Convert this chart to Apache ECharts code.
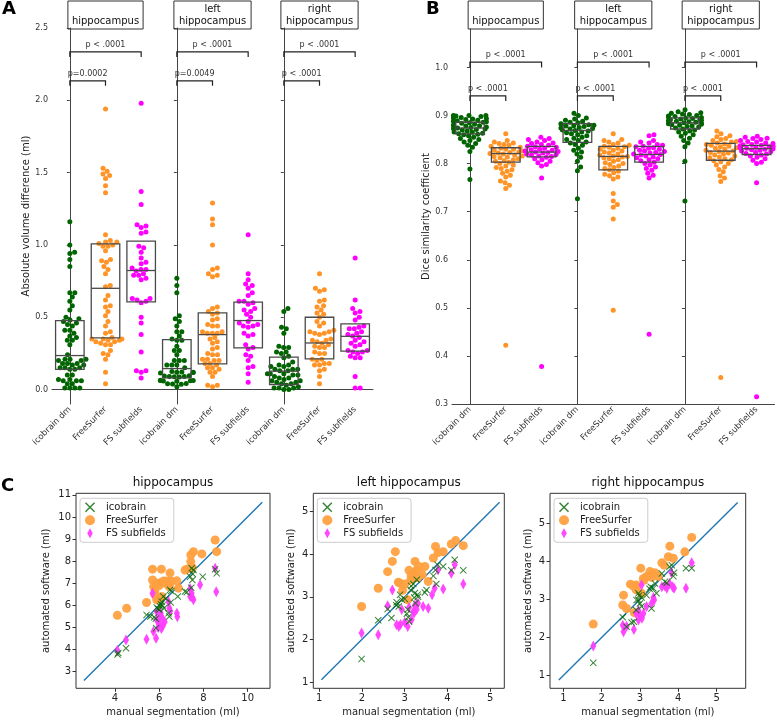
<!DOCTYPE html>
<html><head><meta charset="utf-8">
<script src="https://cdn.jsdelivr.net/npm/echarts@6/dist/echarts.min.js"></script>
<style>html,body{margin:0;padding:0;background:#fff}#c{width:777px;height:722px}</style>
</head><body><div id="c"></div>
<script>
// ---------- categories / labels ----------
const CATS = ['icobrain dm', 'FreeSurfer', 'FS subfields'];
const REGION_BOX = ['hippocampus', 'left\nhippocampus', 'right\nhippocampus'];
const REGION_TITLE = ['hippocampus', 'left hippocampus', 'right hippocampus'];
const LEGEND_NAMES = ['icobrain', 'FreeSurfer', 'FS subfields'];
const pLabelsA = [['p < .0001', 'p=0.0002'], ['p < .0001', 'p=0.0049'], ['p < .0001', 'p < .0001']];
const pLabelsB = [['p < .0001', 'p < .0001'], ['p < .0001', 'p < .0001'], ['p < .0001', 'p < .0001']];
const bracketsA = [[0, 2, 2.3, 0.035], [0, 1, 2.1, 0.035]];
const bracketsB = [[0, 2, 1.0, 0.011], [0, 1, 0.93, 0.011]];
const ticksA = [0, 0.5, 1.0, 1.5, 2.0, 2.5];
const ticksB = [0.3, 0.4, 0.5, 0.6, 0.7, 0.8, 0.9, 1.0];
const ticksC1x = [4, 6, 8, 10];
const ticksC1y = [3, 4, 5, 6, 7, 8, 9, 10, 11];
const ticksC23 = [1, 2, 3, 4, 5];

// ---------- Panel A: absolute volume difference (ml) ----------
const volIcoHip = [1.16, 1.0, 0.95, 0.94, 0.9, 0.85, 0.67, 0.67, 0.64, 0.61, 0.58, 0.55, 0.5, 0.49, 0.48, 0.47, 0.46, 0.45, 0.44, 0.41, 0.41, 0.39, 0.37, 0.36, 0.34, 0.34, 0.31, 0.24, 0.21, 0.21, 0.21, 0.2, 0.2, 0.18, 0.18, 0.18, 0.17, 0.17, 0.15, 0.15, 0.15, 0.14, 0.14, 0.1, 0.1, 0.07, 0.07, 0.06, 0.06, 0.06, 0.04, 0.04, 0.01, 0.01, 0.01, 0.01];
const volFsHip = [1.94, 1.53, 1.51, 1.49, 1.48, 1.46, 1.41, 1.36, 1.07, 1.03, 1.02, 1.02, 1.01, 1.0, 0.99, 0.99, 0.96, 0.9, 0.89, 0.88, 0.85, 0.83, 0.8, 0.72, 0.71, 0.65, 0.62, 0.58, 0.57, 0.54, 0.51, 0.47, 0.44, 0.4, 0.39, 0.36, 0.35, 0.35, 0.35, 0.34, 0.34, 0.33, 0.33, 0.32, 0.31, 0.31, 0.27, 0.25, 0.24, 0.21, 0.12, 0.04];
const volSubHip = [1.98, 1.37, 1.28, 1.14, 1.13, 1.12, 1.09, 1.08, 0.99, 0.98, 0.95, 0.91, 0.88, 0.87, 0.84, 0.83, 0.83, 0.82, 0.8, 0.79, 0.79, 0.77, 0.76, 0.63, 0.63, 0.62, 0.61, 0.6, 0.5, 0.46, 0.38, 0.26, 0.13, 0.13, 0.12, 0.08];
const volIcoLeft = [0.77, 0.72, 0.67, 0.51, 0.49, 0.47, 0.44, 0.4, 0.4, 0.37, 0.35, 0.34, 0.34, 0.3, 0.27, 0.27, 0.24, 0.2, 0.2, 0.2, 0.17, 0.17, 0.17, 0.15, 0.125, 0.122, 0.12, 0.119, 0.117, 0.115, 0.095, 0.093, 0.091, 0.09, 0.089, 0.087, 0.065, 0.063, 0.062, 0.06, 0.059, 0.057, 0.042, 0.04, 0.038, 0.036, 0.02];
const volFsLeft = [1.29, 1.18, 1.14, 1.0, 0.84, 0.83, 0.8, 0.79, 0.78, 0.57, 0.56, 0.54, 0.53, 0.52, 0.49, 0.48, 0.45, 0.44, 0.44, 0.4, 0.4, 0.39, 0.39, 0.39, 0.36, 0.35, 0.33, 0.32, 0.29, 0.28, 0.25, 0.24, 0.24, 0.21, 0.21, 0.2, 0.2, 0.18, 0.18, 0.17, 0.15, 0.15, 0.14, 0.12, 0.12, 0.09, 0.03, 0.03, 0.02];
const volSubLeft = [1.07, 0.8, 0.76, 0.73, 0.72, 0.7, 0.67, 0.65, 0.61, 0.61, 0.6, 0.59, 0.56, 0.55, 0.54, 0.52, 0.5, 0.47, 0.46, 0.45, 0.44, 0.44, 0.43, 0.39, 0.38, 0.37, 0.31, 0.29, 0.28, 0.24, 0.23, 0.2, 0.16, 0.15, 0.11, 0.05];
const volIcoRight = [0.56, 0.54, 0.43, 0.42, 0.39, 0.3, 0.29, 0.29, 0.26, 0.26, 0.25, 0.23, 0.22, 0.19, 0.17, 0.17, 0.16, 0.16, 0.14, 0.14, 0.14, 0.13, 0.13, 0.11, 0.11, 0.11, 0.1, 0.1, 0.09, 0.08, 0.08, 0.07, 0.06, 0.06, 0.05, 0.05, 0.04, 0.04, 0.03, 0.02, 0.01, 0.01, 0.01, 0.0, 0.0];
const volFsRight = [0.8, 0.7, 0.69, 0.68, 0.62, 0.61, 0.58, 0.57, 0.55, 0.53, 0.52, 0.5, 0.47, 0.46, 0.44, 0.41, 0.4, 0.4, 0.39, 0.39, 0.38, 0.35, 0.34, 0.34, 0.33, 0.32, 0.31, 0.3, 0.29, 0.29, 0.26, 0.25, 0.25, 0.21, 0.21, 0.2, 0.18, 0.18, 0.17, 0.17, 0.14, 0.13, 0.09, 0.04];
const volSubRight = [0.91, 0.62, 0.56, 0.54, 0.53, 0.5, 0.48, 0.44, 0.43, 0.42, 0.42, 0.4, 0.39, 0.38, 0.37, 0.36, 0.34, 0.33, 0.32, 0.31, 0.3, 0.27, 0.27, 0.26, 0.26, 0.25, 0.23, 0.22, 0.22, 0.09, 0.01, 0.01];
// box stats [Q1, median, Q3]
const volBoxHip = [[0.14, 0.235, 0.477], [0.357, 0.70, 1.007], [0.606, 0.823, 1.026]];
const volBoxLeft = [[0.08, 0.145, 0.345], [0.178, 0.38, 0.53], [0.288, 0.477, 0.604]];
const volBoxRight = [[0.035, 0.127, 0.224], [0.212, 0.322, 0.5], [0.265, 0.368, 0.454]];

// ---------- Panel B: Dice similarity coefficient ----------
const diceIcoHip = [0.90, 0.90, 0.90, 0.899, 0.898, 0.896, 0.895, 0.894, 0.893, 0.892, 0.89, 0.889, 0.888, 0.887, 0.886, 0.885, 0.884, 0.882, 0.881, 0.88, 0.879, 0.878, 0.876, 0.875, 0.874, 0.873, 0.872, 0.871, 0.87, 0.868, 0.866, 0.865, 0.863, 0.862, 0.861, 0.86, 0.858, 0.855, 0.852, 0.85, 0.848, 0.845, 0.842, 0.838, 0.834, 0.825, 0.789, 0.767];
const diceFsHip = [0.862, 0.848, 0.845, 0.843, 0.842, 0.84, 0.838, 0.836, 0.834, 0.832, 0.83, 0.83, 0.828, 0.826, 0.824, 0.823, 0.822, 0.821, 0.82, 0.818, 0.816, 0.815, 0.814, 0.812, 0.81, 0.808, 0.806, 0.805, 0.803, 0.8, 0.797, 0.795, 0.792, 0.79, 0.787, 0.784, 0.78, 0.776, 0.772, 0.764, 0.76, 0.755, 0.748, 0.422];
const diceSubHip = [0.855, 0.852, 0.85, 0.848, 0.845, 0.843, 0.842, 0.84, 0.838, 0.836, 0.835, 0.834, 0.832, 0.83, 0.829, 0.828, 0.826, 0.825, 0.824, 0.823, 0.822, 0.82, 0.819, 0.818, 0.816, 0.815, 0.813, 0.81, 0.808, 0.805, 0.802, 0.798, 0.795, 0.77, 0.378];
const diceIcoLeft = [0.905, 0.9, 0.895, 0.893, 0.89, 0.888, 0.886, 0.885, 0.883, 0.882, 0.881, 0.88, 0.879, 0.878, 0.877, 0.875, 0.874, 0.873, 0.872, 0.87, 0.869, 0.868, 0.866, 0.864, 0.862, 0.86, 0.858, 0.855, 0.853, 0.85, 0.848, 0.845, 0.843, 0.84, 0.838, 0.832, 0.828, 0.824, 0.82, 0.813, 0.805, 0.793, 0.785, 0.727];
const diceFsLeft = [0.862, 0.85, 0.848, 0.845, 0.843, 0.84, 0.838, 0.836, 0.835, 0.834, 0.832, 0.83, 0.828, 0.826, 0.824, 0.822, 0.82, 0.818, 0.816, 0.815, 0.814, 0.812, 0.81, 0.808, 0.805, 0.802, 0.8, 0.798, 0.795, 0.792, 0.79, 0.787, 0.784, 0.781, 0.778, 0.775, 0.772, 0.768, 0.738, 0.722, 0.715, 0.709, 0.685, 0.495];
const diceSubLeft = [0.86, 0.858, 0.848, 0.845, 0.843, 0.84, 0.838, 0.836, 0.835, 0.833, 0.832, 0.83, 0.828, 0.826, 0.825, 0.823, 0.822, 0.82, 0.819, 0.818, 0.816, 0.814, 0.812, 0.81, 0.808, 0.806, 0.803, 0.8, 0.797, 0.793, 0.79, 0.786, 0.78, 0.776, 0.77, 0.445];
const diceIcoRight = [0.912, 0.908, 0.906, 0.905, 0.903, 0.902, 0.9, 0.899, 0.898, 0.897, 0.896, 0.895, 0.894, 0.893, 0.892, 0.891, 0.89, 0.889, 0.888, 0.887, 0.886, 0.885, 0.884, 0.883, 0.882, 0.881, 0.88, 0.879, 0.877, 0.876, 0.874, 0.872, 0.87, 0.868, 0.866, 0.863, 0.86, 0.857, 0.853, 0.848, 0.843, 0.835, 0.805, 0.722];
const diceFsRight = [0.868, 0.862, 0.858, 0.856, 0.852, 0.85, 0.848, 0.846, 0.845, 0.843, 0.841, 0.84, 0.838, 0.836, 0.835, 0.833, 0.832, 0.83, 0.828, 0.826, 0.825, 0.823, 0.822, 0.82, 0.818, 0.816, 0.814, 0.812, 0.81, 0.808, 0.806, 0.804, 0.8, 0.797, 0.793, 0.788, 0.783, 0.775, 0.77, 0.763, 0.355];
const diceSubRight = [0.857, 0.855, 0.853, 0.852, 0.85, 0.848, 0.846, 0.845, 0.843, 0.842, 0.84, 0.839, 0.838, 0.837, 0.836, 0.835, 0.834, 0.833, 0.832, 0.831, 0.83, 0.829, 0.828, 0.826, 0.825, 0.823, 0.821, 0.82, 0.818, 0.816, 0.813, 0.81, 0.807, 0.803, 0.8, 0.76, 0.315];
const diceBoxHip = [[0.862, 0.874, 0.886], [0.803, 0.821, 0.833], [0.814, 0.824, 0.836]];
const diceBoxLeft = [[0.844, 0.869, 0.883], [0.787, 0.815, 0.836], [0.803, 0.819, 0.836]];
const diceBoxRight = [[0.872, 0.885, 0.895], [0.807, 0.826, 0.842], [0.819, 0.831, 0.838]];

// ---------- Panel C: manual (x) vs automated (y) volumes (ml) ----------
const scIcoHip = [[4.12,3.78],[4.15,3.85],[4.5,4.06],[5.43,5.57],[5.6,5.5],[5.77,5.46],[5.86,4.97],[5.89,5.9],[5.95,5.85],[6.0,5.8],[6.04,5.95],[6.11,6.17],[6.15,6.0],[6.19,6.4],[6.22,5.87],[6.3,6.3],[6.42,5.64],[6.46,5.5],[6.49,6.7],[6.52,6.13],[6.55,6.65],[6.84,6.4],[7.17,6.63],[7.25,6.6],[7.4,7.3],[7.45,6.8],[7.47,7.68],[7.52,7.42],[7.5,7.15],[7.55,7.6],[7.97,7.3],[8.53,7.64],[8.6,7.45],[5.85,5.4],[6.08,6.05]];
const scFsHip = [[4.11,5.55],[4.53,5.87],[5.43,6.13],[5.7,7.15],[5.7,7.64],[6.1,7.64],[5.81,6.7],[5.89,7.0],[5.95,6.3],[6.0,6.9],[6.1,7.05],[6.2,7.1],[6.3,7.0],[6.35,7.1],[6.46,6.97],[6.49,7.47],[6.55,7.1],[6.8,7.11],[6.87,6.78],[7.17,7.6],[7.3,7.65],[7.43,7.98],[7.43,8.28],[7.55,8.43],[7.93,8.33],[8.53,8.96],[8.6,8.43],[6.11,6.4],[5.89,6.25],[5.75,6.85],[6.45,6.85],[7.5,7.7],[5.8,6.5]];
const scSubHip = [[4.11,3.96],[4.5,4.44],[5.43,4.47],[5.86,4.51],[5.7,6.55],[5.74,4.82],[5.89,5.34],[6.0,5.19],[6.16,5.07],[5.89,5.72],[6.07,5.64],[6.46,5.87],[6.8,5.64],[6.82,5.49],[7.4,6.4],[7.47,6.55],[7.55,6.25],[7.85,6.93],[8.53,7.68],[8.58,6.62],[6.42,6.17],[6.16,5.4],[6.1,4.95],[5.95,5.0],[6.25,5.25],[7.4,6.75],[7.5,6.35],[6.5,5.75],[6.05,5.5]];
const scIcoLeft = [[1.99,1.54],[2.38,2.45],[2.6,2.71],[2.69,2.5],[2.81,2.87],[2.86,2.77],[2.93,2.93],[2.89,3.05],[3.07,2.7],[3.08,2.52],[3.1,2.42],[3.14,3.16],[3.2,3.3],[3.24,3.09],[3.25,2.85],[3.28,3.4],[3.31,3.0],[3.47,3.1],[3.51,3.16],[3.67,3.49],[3.72,3.63],[3.74,3.3],[3.77,3.75],[3.9,3.71],[4.09,3.62],[4.17,3.87],[4.37,3.62],[2.8,2.8],[3.0,2.95],[3.15,3.25],[3.3,3.05],[3.22,2.98],[3.05,2.6]];
const scFsLeft = [[1.99,2.77],[2.38,3.2],[2.6,3.59],[2.71,3.83],[2.78,4.06],[2.85,3.34],[2.89,3.32],[3.07,2.93],[3.1,3.62],[3.14,3.4],[3.24,3.83],[3.28,3.63],[3.33,3.71],[3.41,3.52],[3.47,3.71],[3.55,3.36],[3.67,3.91],[3.72,4.18],[3.78,4.04],[3.9,4.06],[4.09,4.24],[4.19,4.32],[4.37,4.2],[3.2,3.55],[3.15,3.5],[2.95,3.15],[3.0,3.3],[3.3,3.45]];
const scSubLeft = [[1.99,2.15],[2.38,2.11],[2.6,2.79],[2.71,3.16],[2.81,2.34],[2.86,2.3],[2.93,2.7],[3.07,2.3],[3.1,2.75],[3.16,2.46],[3.22,2.62],[3.28,2.7],[3.31,2.85],[3.43,2.77],[3.55,2.73],[3.64,3.05],[3.7,3.2],[3.78,3.63],[3.9,3.18],[4.09,3.55],[4.17,3.75],[4.37,3.3],[3.24,2.8],[2.9,2.35],[3.0,2.4],[3.2,2.65]];
const scIcoRight = [[1.78,1.33],[2.55,2.53],[2.65,2.28],[2.78,2.39],[2.84,2.41],[2.9,2.72],[2.91,2.98],[2.96,3.16],[3.0,2.89],[3.04,2.81],[3.17,3.11],[3.28,3.33],[3.3,2.76],[3.35,3.29],[3.39,3.42],[3.43,3.16],[3.57,3.68],[3.65,3.46],[3.7,3.44],[3.77,3.86],[3.83,3.9],[3.87,3.61],[3.89,3.7],[4.2,3.82],[4.35,3.82],[2.96,2.98],[3.04,3.05],[2.98,3.1],[3.25,3.28]];
const scFsRight = [[1.78,2.35],[2.57,3.11],[2.55,2.85],[2.65,2.76],[2.83,3.35],[2.9,3.38],[3.02,3.82],[3.04,3.16],[3.09,3.55],[3.17,3.6],[3.26,3.73],[3.33,3.68],[3.39,3.7],[3.48,3.6],[3.57,3.96],[3.63,3.9],[3.74,4.12],[3.78,4.4],[3.87,4.08],[4.17,4.25],[4.35,4.63],[2.9,3.25],[2.75,3.4],[3.1,3.5],[3.3,3.58],[2.85,2.65]];
const scSubRight = [[1.78,1.77],[2.55,2.32],[2.57,2.15],[2.65,2.29],[2.84,2.21],[2.9,2.63],[2.96,2.46],[3.0,2.59],[3.04,3.38],[3.09,2.63],[3.17,2.81],[3.3,2.89],[3.37,2.98],[3.57,3.33],[3.7,3.29],[3.77,3.42],[3.85,3.33],[3.89,3.29],[4.2,3.29],[4.35,3.96],[2.96,2.7],[3.05,2.5],[3.35,3.05],[3.65,3.35],[3.82,3.7]];
const diagHip = [2.6, 10.66];
const diagLeft = [1.05, 5.22];
const diagRight = [0.88, 5.55];

// ---------- styling ----------
const FONT = 'DejaVu Sans';
const SWARM_COLORS = ['#006400', '#ff9326', '#ff00ff'];
const SC_GREEN = '#006400', SC_ORANGE = '#ffa040', SC_MAGENTA = '#ff3dff';
const AX = '#444';
const SYM_X = 'path://M0,1L1,0L5,4L9,0L10,1L6,5L10,9L9,10L5,6L1,10L0,9L4,5Z';
const SYM_D = 'path://M5,0L10,9L5,18L0,9Z';

// beeswarm offsets (data units of the category axis) computed from values
function swarm(vals, pxX, pxY, d) {
  const order = vals.map((v, i) => i).sort((a, b) => vals[a] - vals[b]);
  const placed = [], out = new Array(vals.length);
  for (const i of order) {
    const y = vals[i] * pxY;
    const nb = placed.filter(p => Math.abs(p.y - y) < d);
    const cands = [0];
    nb.forEach(p => { const dx = Math.sqrt(d * d - (p.y - y) ** 2); cands.push(p.x + dx, p.x - dx); });
    cands.sort((a, b) => Math.abs(a) - Math.abs(b) || b - a);
    let ch = 0;
    for (const c of cands) {
      if (nb.every(p => (p.x - c) ** 2 + (p.y - y) ** 2 >= d * d - 1e-6)) { ch = c; break; }
    }
    placed.push({ x: ch, y });
    let o = ch / pxX;
    o = Math.max(-0.46, Math.min(0.46, o));
    out[i] = o;
  }
  return out;
}

const grid = [], xAxis = [], yAxis = [], series = [], graphic = [], legend = [];

function swarmPanel(L, W, T, H, ymin, ymax, ticks, groups, boxes, brackets, plabels, first, yName, ngap) {
  const gi = grid.length;
  grid.push({ left: L, top: T, width: W, height: H });
  const xc = xAxis.length;
  xAxis.push({
    type: 'category', gridIndex: gi, data: CATS, boundaryGap: true,
    axisLine: { lineStyle: { color: AX, width: 1 } },
    axisTick: { alignWithLabel: true, length: 3, lineStyle: { color: AX } },
    axisLabel: { rotate: 45, interval: 0, fontSize: 8.5, color: '#333', margin: 4, fontFamily: FONT },
    splitLine: { show: false }
  });
  xAxis.push({ type: 'value', gridIndex: gi, min: -0.5, max: 2.5, show: false, position: 'top' });
  const yi = yAxis.length;
  yAxis.push({
    type: 'value', gridIndex: gi, min: ymin, max: ymax,
    name: first ? yName : '', nameLocation: 'middle', nameGap: ngap,
    nameTextStyle: { fontSize: 10, color: '#222', fontFamily: FONT },
    axisLine: { show: true, lineStyle: { color: AX, width: 1 } },
    axisTick: { show: true, length: 3, lineStyle: { color: AX }, customValues: ticks },
    axisLabel: { show: first, fontSize: 8, color: '#333', fontFamily: FONT, margin: 4, customValues: ticks, formatter: v => Number(v).toFixed(1) },
    splitLine: { show: false }
  });
  const pxX = W / 3, pxY = H / (ymax - ymin);
  groups.forEach((vals, ci) => {
    const offs = swarm(vals, pxX, pxY, 5.0);
    series.push({
      type: 'scatter', xAxisIndex: xc + 1, yAxisIndex: yi, symbol: 'circle', symbolSize: 5,
      data: vals.map((v, k) => [ci + offs[k], v]),
      itemStyle: { color: SWARM_COLORS[ci], opacity: 1 }, silent: true, z: 2
    });
  });
  series.push({
    type: 'custom', xAxisIndex: xc + 1, yAxisIndex: yi, z: 4, silent: true,
    encode: { x: 0, y: [1, 2, 3] },
    data: boxes.map((b, i) => [i, b[0], b[1], b[2]]),
    renderItem(params, api) {
      const c = api.value(0);
      const a = api.coord([c - 0.4, api.value(3)]), b = api.coord([c + 0.4, api.value(1)]);
      const m1 = api.coord([c - 0.4, api.value(2)]), m2 = api.coord([c + 0.4, api.value(2)]);
      return { type: 'group', children: [
        { type: 'rect', shape: { x: a[0], y: a[1], width: b[0] - a[0], height: b[1] - a[1] }, style: { fill: 'none', stroke: '#4a4a4a', lineWidth: 1.3 } },
        { type: 'line', shape: { x1: m1[0], y1: m1[1], x2: m2[0], y2: m2[1] }, style: { stroke: '#4a4a4a', lineWidth: 1.3 } }
      ] };
    }
  });
  series.push({
    type: 'custom', xAxisIndex: xc + 1, yAxisIndex: yi, z: 4, silent: true,
    encode: { x: [0, 1], y: 2 },
    data: brackets,
    renderItem(params, api) {
      const x1 = api.value(0), x2 = api.value(1), y = api.value(2), h = api.value(3);
      const p1 = api.coord([x1, y]), p2 = api.coord([x1, y + h]), p3 = api.coord([x2, y + h]), p4 = api.coord([x2, y]);
      return { type: 'group', children: [
        { type: 'polyline', shape: { points: [p1, p2, p3, p4] }, style: { fill: 'none', stroke: '#222', lineWidth: 1.2 } },
        { type: 'text', x: (p2[0] + p3[0]) / 2, y: p2[1] - 3, style: { text: plabels[params.dataIndex], fill: '#333', font: '8px ' + FONT, textAlign: 'center', textVerticalAlign: 'bottom' } }
      ] };
    }
  });
  graphic.push({
    type: 'text', left: null, x: L + W / 2, y: 1, z: 10,
    style: { text: REGION_BOX[gi % 3], fill: '#111', font: '10px ' + FONT, align: 'center', verticalAlign: 'top',
      lineHeight: 12, padding: gi % 3 === 0 ? [14, 4, 2, 4] : [2, 5, 2, 5], borderColor: '#333', borderWidth: 1 }
  });
}

const volGroups = [[volIcoHip, volFsHip, volSubHip], [volIcoLeft, volFsLeft, volSubLeft], [volIcoRight, volFsRight, volSubRight]];
const volBoxes = [volBoxHip, volBoxLeft, volBoxRight];
const diceGroups = [[diceIcoHip, diceFsHip, diceSubHip], [diceIcoLeft, diceFsLeft, diceSubLeft], [diceIcoRight, diceFsRight, diceSubRight]];
const diceBoxes = [diceBoxHip, diceBoxLeft, diceBoxRight];

const A_LEFT = [52, 159, 266], A_W = 107;
for (let k = 0; k < 3; k++) swarmPanel(A_LEFT[k], A_W, 28, 376, -0.1, 2.5, ticksA, volGroups[k], volBoxes[k], bracketsA, pLabelsA[k], k === 0, 'Absolute volume difference (ml)', 20);
const B_LEFT = [452, 559.5, 667], B_W = 107.5;
for (let k = 0; k < 3; k++) swarmPanel(B_LEFT[k], B_W, 29, 375, 0.3, 1.08, ticksB, diceGroups[k], diceBoxes[k], bracketsB, pLabelsB[k], k === 0, 'Dice similarity coefficient', 21);

// ---------- Panel C ----------
const scGroups = [[scIcoHip, scFsHip, scSubHip], [scIcoLeft, scFsLeft, scSubLeft], [scIcoRight, scFsRight, scSubRight]];
const diags = [diagHip, diagLeft, diagRight];
const C_GRID = [
  { left: 76, top: 493.3, width: 194, height: 195, xmin: 2.24, xmax: 11.01, ymin: 2.25, ymax: 11.07, xt: ticksC1x, yt: ticksC1y, ngap: 25 },
  { left: 313.3, top: 493.3, width: 191, height: 195, xmin: 0.86, xmax: 5.33, ymin: 0.85, ymax: 5.43, xt: ticksC23, yt: ticksC23, ngap: 17 },
  { left: 550, top: 493.3, width: 195.7, height: 195, xmin: 0.65, xmax: 5.76, ymin: 0.66, ymax: 5.79, xt: ticksC23, yt: ticksC23, ngap: 17 }
];
C_GRID.forEach((g, k) => {
  const gi = grid.length;
  grid.push({ left: g.left, top: g.top, width: g.width, height: g.height, show: true, borderColor: '#333', borderWidth: 1, backgroundColor: 'transparent' });
  const xi = xAxis.length, yi = yAxis.length;
  xAxis.push({
    type: 'value', gridIndex: gi, min: g.xmin, max: g.xmax,
    name: 'manual segmentation (ml)', nameLocation: 'middle', nameGap: 19,
    nameTextStyle: { fontSize: 10, color: '#222', fontFamily: FONT },
    axisLine: { show: false },
    axisTick: { show: true, length: 3.5, lineStyle: { color: '#333' }, customValues: g.xt },
    axisLabel: { fontSize: 10, color: '#222', fontFamily: FONT, margin: 5, customValues: g.xt },
    splitLine: { show: false }
  });
  yAxis.push({
    type: 'value', gridIndex: gi, min: g.ymin, max: g.ymax,
    name: 'automated software (ml)', nameLocation: 'middle', nameGap: g.ngap,
    nameTextStyle: { fontSize: 10, color: '#222', fontFamily: FONT },
    axisLine: { show: false },
    axisTick: { show: true, length: 3.5, lineStyle: { color: '#333' }, customValues: g.yt },
    axisLabel: { fontSize: 10, color: '#222', fontFamily: FONT, margin: 5, customValues: g.yt },
    splitLine: { show: false }
  });
  const [ico, fs, sub] = scGroups[k];
  series.push({ type: 'line', xAxisIndex: xi, yAxisIndex: yi, data: [[diags[k][0], diags[k][0]], [diags[k][1], diags[k][1]]],
    symbol: 'none', lineStyle: { color: '#1f77b4', width: 1.4 }, z: 1, silent: true });
  series.push({ type: 'scatter', name: LEGEND_NAMES[1], xAxisIndex: xi, yAxisIndex: yi, data: fs, symbol: 'circle', symbolSize: 9,
    itemStyle: { color: SC_ORANGE, opacity: 0.95 }, z: 2, silent: true });
  series.push({ type: 'scatter', name: LEGEND_NAMES[2], xAxisIndex: xi, yAxisIndex: yi, data: sub, symbol: SYM_D, symbolSize: [6, 11],
    itemStyle: { color: SC_MAGENTA, opacity: 0.95 }, z: 3, silent: true });
  series.push({ type: 'scatter', name: LEGEND_NAMES[0], xAxisIndex: xi, yAxisIndex: yi, data: ico, symbol: SYM_X, symbolSize: 7,
    itemStyle: { color: SC_GREEN }, z: 4, silent: true });
  legend.push({
    data: LEGEND_NAMES, orient: 'vertical', left: g.left + 4, top: g.top + 5,
    itemWidth: 22, itemHeight: 10, itemGap: 3, padding: [4, 8, 4, 5],
    borderColor: '#ccc', borderWidth: 1, borderRadius: 3, backgroundColor: '#fff',
    textStyle: { fontSize: 10, color: '#222', fontFamily: FONT }, selectedMode: false
  });
  graphic.push({ type: 'text', x: g.left + g.width / 2, y: g.top - 4, z: 10,
    style: { text: REGION_TITLE[k], fill: '#111', font: '12px ' + FONT, align: 'center', verticalAlign: 'bottom' } });
});

// panel letters
[['A', 2, 0], ['B', 426, 0], ['C', 1, 477]].forEach(([t, x, y]) => {
  graphic.push({ type: 'text', x, y, z: 10, style: { text: t, fill: '#000', font: 'bold 18px ' + FONT, align: 'left', verticalAlign: 'top' } });
});

const chart = echarts.init(document.getElementById('c'), null, { renderer: 'canvas' });
chart.setOption({ animation: false, backgroundColor: '#fff', grid, xAxis, yAxis, series, legend, graphic });
</script>
</body></html>
